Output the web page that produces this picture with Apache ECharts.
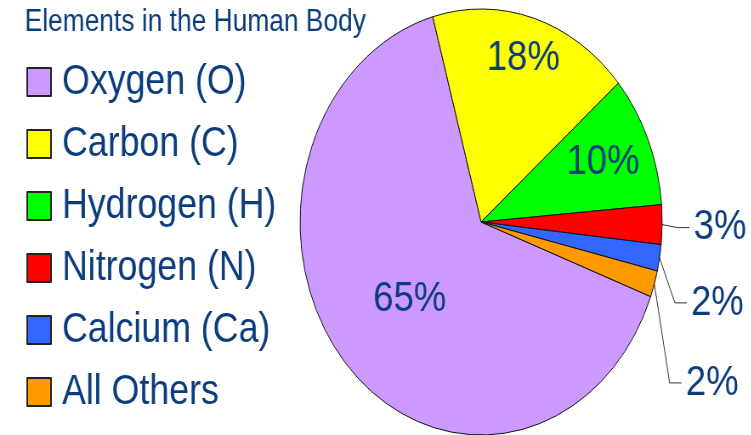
<!DOCTYPE html>
<html lang="en">
<head>
	<meta charset="UTF-8">
	<title>Elements in the Human Body</title>
	<script src="https://cdn.jsdelivr.net/npm/echarts@6/dist/echarts.min.js"></script>
	<style>
		body {
			margin: 0;
			overflow: hidden;
			background: #fff;
		}
		/* the source picture is squeezed sideways, so the whole chart is too */
		.container {
			width: 884px;
			height: 435px;
			transform: scaleX(0.85);
			transform-origin: 0 0;
		}
	</style>
</head>
<body>
	<div class="container" id="container"></div>
	<script>
		var names = ['Oxygen (O)', 'Carbon (C)', 'Hydrogen (H)', 'Nitrogen (N)', 'Calcium (Ca)', 'All Others'];
		var values = [65, 18, 10, 3, 2, 2];
		var colors = ['#cc99ff', '#ffff00', '#00ff00', '#ff0000', '#3366ff', '#ff9900'];
		// inside labels: fraction of the radius; outside labels: how far they drop
		var labelRadius = [0.52, 0.78, 0.71, 0, 0, 0];
		var labelDrop = [0, 0, 0, 3, 45, 99];

		var center = [566, 222];
		var radius = 213;
		var navy = '#0b3d7c';

		var data = names.map(function (n, i) {
			return {
				name: n,
				value: values[i],
				itemStyle: { color: colors[i] },
				label: { position: labelRadius[i] ? 'inside' : 'outside' },
				labelLine: { show: !labelRadius[i] }
			};
		});

		function edgePoint(i) {
			var total = values.reduce(function (a, b) { return a + b; }, 0);
			var before = 0;
			for (var k = 0; k < i; k++) before += values[k];
			var a = (110.5 + 360 * (before + values[i] / 2) / total) * Math.PI / 180;
			return [center[0] + radius * Math.sin(a), center[1] - radius * Math.cos(a)];
		}

		var myChart = echarts.init(document.getElementById('container'));
		var option = {
			animation: false,
			title: {
				text: 'Elements in the Human Body',
				left: 29,
				top: 7,
				padding: 0,
				textStyle: {
					color: navy,
					fontSize: 31,
					fontWeight: 'normal',
					fontFamily: 'Liberation Sans'
				}
			},
			legend: {
				orient: 'vertical',
				left: 31,
				top: 61,
				padding: 0,
				itemWidth: 28,
				itemHeight: 28,
				itemGap: 20,
				icon: 'rect',
				data: names,
				itemStyle: { borderColor: '#222', borderWidth: 2 },
				textStyle: {
					color: navy,
					fontSize: 42,
					padding: [0, 0, 0, 8],
					fontFamily: 'Liberation Sans'
				}
			},
			series: [{
				type: 'pie',
				center: center,
				radius: radius,
				startAngle: -20.5,
				clockwise: true,
				avoidLabelOverlap: false,
				data: data,
				itemStyle: { borderColor: '#111', borderWidth: 1 },
				emphasis: { disabled: true },
				label: {
					formatter: '{c}%',
					color: navy,
					fontSize: 43,
					fontFamily: 'Liberation Sans'
				},
				labelLine: {
					lineStyle: { color: '#333', width: 1 }
				},
				labelLayout: function (p) {
					var i = p.dataIndex;
					if (labelRadius[i]) {
						var r = p.labelRect;
						var k = labelRadius[i] / 0.5;
						return {
							x: center[0] + (r.x + r.width / 2 - center[0]) * k,
							y: center[1] + (r.y + r.height / 2 - center[1]) * k,
							align: 'center',
							verticalAlign: 'middle'
						};
					}
					var edge = (p.labelLinePoints && p.labelLinePoints[0]) || edgePoint(i);
					var bend = [edge[0] + 18, edge[1] + labelDrop[i]];
					var end = [bend[0] + 14, bend[1]];
					return {
						x: end[0] + 5,
						y: end[1],
						align: 'left',
						verticalAlign: 'middle',
						labelLinePoints: [edge, bend, end]
					};
				}
			}]
		};
		myChart.setOption(option);
	</script>
</body>
</html>
